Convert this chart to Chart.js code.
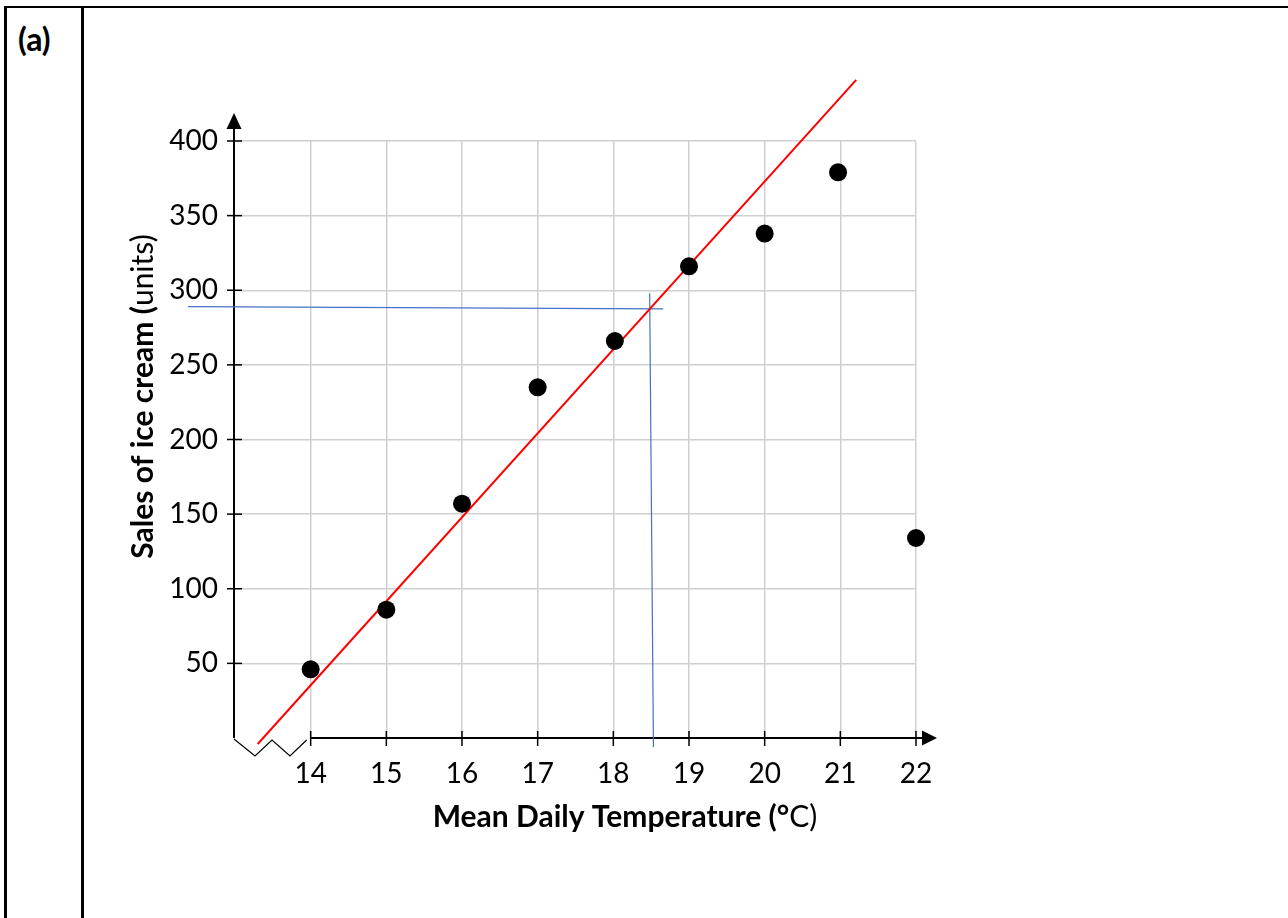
<!DOCTYPE html>
<html>
<head>
<meta charset="utf-8">
<title>Ice cream sales vs temperature</title>
<script src="https://cdn.jsdelivr.net/npm/chart.js@4.4.0/dist/chart.umd.min.js"></script>
<style>
    body { margin: 0; background: #fff; }
    #frame { position: absolute; left: 4px; top: 6px; width: 1284px; height: 912px; border-top: 2px solid #000; border-left: 3px solid #000; }
    #divider { position: absolute; left: 81px; top: 6px; width: 3px; height: 912px; background: #000; }
    #part { position: absolute; left: 18px; top: 19px; font: bold 32px Lato, sans-serif; color: #000; }
    canvas { position: absolute; left: 0; top: 0; }
</style>
</head>
<body>
<div id="frame"></div>
<div id="divider"></div>
<div id="part">(a)</div>
<canvas id="salesChart" width="1288" height="918"></canvas>
<script>
// Data
const temps = [14, 15, 16, 17, 18.02, 19, 20, 20.97, 22];
const sales = [46, 86, 157, 235, 266, 316, 338, 379, 134];

// Line of best fit (two ends)
const fitX = [13.3, 21.21];
const fitY = [-4, 441];

// Reading lines (blue)
const readHX = [12.38, 18.66];
const readHY = [289, 287.5];
const readVX = [18.48, 18.53];
const readVY = [298, -6];

const xTicks = [14, 15, 16, 17, 18, 19, 20, 21, 22];
const yTicks = [50, 100, 150, 200, 250, 300, 350, 400];

const pts = (xs, ys) => xs.map((x, i) => ({ x: x, y: ys[i] }));

const FONT = 'Lato, sans-serif';

// Axes with arrows, broken x axis and crossing tick marks, plus titles
const axesPlugin = {
    id: 'axes',
    beforeDatasetsDraw(chart) {
        const { ctx, chartArea: a, scales: { x, y } } = chart;
        const x0 = a.left - 1;
        const y0 = y.getPixelForValue(0);
        const xs = x.getPixelForValue(14);
        ctx.save();
        ctx.strokeStyle = '#000';
        ctx.fillStyle = '#000';

        // y axis + arrow
        ctx.lineWidth = 2;
        ctx.beginPath();
        ctx.moveTo(x0, y0);
        ctx.lineTo(x0, a.top - 14);
        ctx.stroke();
        ctx.beginPath();
        ctx.moveTo(x0, a.top - 28);
        ctx.lineTo(x0 - 7.5, a.top - 12);
        ctx.lineTo(x0 + 7.5, a.top - 12);
        ctx.closePath();
        ctx.fill();

        // x axis (starts at 14) + arrow
        ctx.beginPath();
        ctx.moveTo(xs, y0);
        ctx.lineTo(a.right + 8, y0);
        ctx.stroke();
        ctx.beginPath();
        ctx.moveTo(a.right + 21, y0);
        ctx.lineTo(a.right + 6, y0 - 7.5);
        ctx.lineTo(a.right + 6, y0 + 7.5);
        ctx.closePath();
        ctx.fill();

        // zigzag break
        ctx.lineWidth = 1.2;
        ctx.beginPath();
        ctx.moveTo(x0, y0 + 1);
        ctx.lineTo(x0 + 21, y0 + 18);
        ctx.lineTo(x0 + 38, y0 + 2);
        ctx.lineTo(x0 + 56, y0 + 18);
        ctx.lineTo(xs - 4, y0 + 2);
        ctx.stroke();

        // tick marks
        ctx.lineWidth = 1.5;
        yTicks.forEach(v => {
            const py = y.getPixelForValue(v);
            ctx.beginPath();
            ctx.moveTo(x0 - 7, py);
            ctx.lineTo(x0 + 8, py);
            ctx.stroke();
        });
        xTicks.forEach(v => {
            const px = x.getPixelForValue(v);
            ctx.beginPath();
            ctx.moveTo(px, y0 - 7);
            ctx.lineTo(px, y0 + 8);
            ctx.stroke();
        });
        ctx.restore();
    },
    afterDraw(chart) {
        const { ctx, chartArea: a } = chart;
        const bold = 'bold 30px ' + FONT;
        const reg = '30px ' + FONT;
        ctx.save();
        ctx.fillStyle = '#000';
        ctx.textBaseline = 'alphabetic';
        ctx.textAlign = 'left';
        drawMixed(ctx, [
            { text: 'Mean Daily Temperature (°', font: bold },
            { text: 'C)', font: reg }
        ], a.left + 390, a.bottom + 89);

        ctx.translate(a.left - 82, (a.top + a.bottom) / 2 - 43);
        ctx.rotate(-Math.PI / 2);
        drawMixed(ctx, [
            { text: 'Sales of ice cream (', font: bold },
            { text: 'units)', font: reg }
        ], 0, 0);
        ctx.restore();
    }
};

function drawMixed(ctx, parts, cx, by) {
    let total = 0;
    parts.forEach(p => {
        ctx.font = p.font;
        p.w = ctx.measureText(p.text).width;
        total += p.w;
    });
    let px = cx - total / 2;
    parts.forEach(p => {
        ctx.font = p.font;
        ctx.fillText(p.text, px, by);
        px += p.w;
    });
}

const gridColor = '#d0d0d0';

new Chart(document.getElementById('salesChart'), {
    type: 'scatter',
    data: {
        datasets: [
            {
                label: 'Sales',
                data: pts(temps, sales),
                backgroundColor: '#000',
                borderColor: '#000',
                borderWidth: 0,
                pointRadius: 9,
                clip: false,
                order: 0
            },
            {
                label: 'Best fit',
                data: pts(fitX, fitY),
                showLine: true,
                borderColor: '#ff0000',
                borderWidth: 2,
                pointRadius: 0,
                clip: false,
                order: 1
            },
            {
                label: 'Reading across',
                data: pts(readHX, readHY),
                showLine: true,
                borderColor: '#4472c4',
                borderWidth: 1.2,
                pointRadius: 0,
                clip: false,
                order: 2
            },
            {
                label: 'Reading down',
                data: pts(readVX, readVY),
                showLine: true,
                borderColor: '#4472c4',
                borderWidth: 1.2,
                pointRadius: 0,
                clip: false,
                order: 2
            }
        ]
    },
    options: {
        responsive: false,
        animation: false,
        layout: {
            padding: { left: 155, right: 372, top: 141, bottom: 120 }
        },
        plugins: {
            legend: { display: false },
            tooltip: { enabled: false }
        },
        scales: {
            x: {
                type: 'linear',
                min: 13,
                max: 22,
                afterFit: s => { s.height = 60; },
                border: { display: false },
                grid: {
                    drawTicks: false,
                    lineWidth: 1.5,
                    color: c => (c.tick && c.tick.value === 13) ? 'rgba(0,0,0,0)' : gridColor
                },
                ticks: {
                    stepSize: 1,
                    padding: 19,
                    color: '#000',
                    font: { family: FONT, size: 28 },
                    callback: v => xTicks.includes(v) ? String(v) : ''
                }
            },
            y: {
                min: 0,
                max: 400,
                afterFit: s => { s.width = 80; },
                border: { display: false },
                grid: {
                    drawTicks: false,
                    lineWidth: 1.5,
                    color: c => (c.tick && c.tick.value === 0) ? 'rgba(0,0,0,0)' : gridColor
                },
                ticks: {
                    stepSize: 50,
                    padding: 17,
                    color: '#000',
                    font: { family: FONT, size: 28 },
                    callback: v => yTicks.includes(v) ? String(v) : ''
                }
            }
        }
    },
    plugins: [axesPlugin]
});
</script>
</body>
</html>
